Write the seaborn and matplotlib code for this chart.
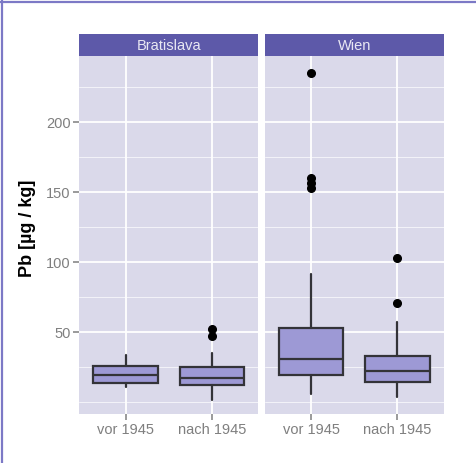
import matplotlib
matplotlib.use("Agg")
import matplotlib.pyplot as plt
from matplotlib.patches import Rectangle
from matplotlib.lines import Line2D
from matplotlib.ticker import FixedLocator
import pandas as pd
import seaborn as sns

# Blei-Gehalt je Stadt und Bauperiode (Boxplot-Kennwerte, µg/kg)
cities = ["Bratislava", "Wien"]
periods = ["vor 1945", "nach 1945"]
city = ["Bratislava", "Bratislava", "Wien", "Wien"]
period = ["vor 1945", "nach 1945", "vor 1945", "nach 1945"]
whisker_low = [10.7, 1.4, 5.7, 3.6]
q1 = [13.6, 12.1, 19.3, 14.3]
median = [19.3, 17.1, 30.7, 22.1]
q3 = [25.7, 25.0, 52.9, 32.9]
whisker_high = [33.6, 35.0, 91.4, 57.0]
outliers = [[], [47, 52], [153, 156, 160, 235], [71, 103]]
y_ticks = [50, 100, 150, 200]

df = pd.DataFrame({
    "Stadt": city, "Periode": period,
    "whislo": whisker_low, "q1": q1, "med": median, "q3": q3,
    "whishi": whisker_high, "fliers": outliers,
})

PANEL_BG = "#DAD9EA"
STRIP_BG = "#5D59A9"
BOX_FILL = "#9D99D5"
LINE_COL = "#333338"
TICK_COL = "#7F7F7F"

sns.set_theme(style="darkgrid", rc={
    "axes.facecolor": PANEL_BG,
    "grid.color": "white",
})
plt.rcParams["font.family"] = ["Liberation Sans", "DejaVu Sans"]


def draw_boxes(data, **kws):
    ax = plt.gca()
    stats = []
    pos = []
    for _, r in data.iterrows():
        stats.append(dict(whislo=r.whislo, q1=r.q1, med=r.med, q3=r.q3,
                          whishi=r.whishi, fliers=list(r.fliers)))
        pos.append(periods.index(r.Periode))
    ax.bxp(stats, positions=pos, widths=0.75, patch_artist=True,
           showcaps=False, manage_ticks=False,
           boxprops=dict(facecolor=BOX_FILL, edgecolor=LINE_COL, linewidth=1.6),
           medianprops=dict(color=LINE_COL, linewidth=1.6),
           whiskerprops=dict(color=LINE_COL, linewidth=1.6),
           flierprops=dict(marker="o", markerfacecolor="black",
                           markeredgecolor="black", markersize=5.5))


g = sns.FacetGrid(df, col="Stadt", col_order=cities, sharey=True, sharex=True,
                  despine=False)
g.map_dataframe(draw_boxes)
fig = g.figure
fig.set_size_inches(4.76, 4.64)
fig.set_dpi(100)
fig.subplots_adjust(left=79 / 476, right=444 / 476, bottom=1 - 415 / 464,
                    top=1 - 57 / 464, wspace=6 / 179)
g.set_titles("")

for ax, name in zip(g.axes.flat, cities):
    ax.set_xlim(-0.54, 1.54)
    ax.set_ylim(-8.6, 247)
    ax.set_xticks([0, 1])
    ax.set_xticklabels(periods)
    ax.yaxis.set_major_locator(FixedLocator(y_ticks))
    ax.yaxis.set_minor_locator(FixedLocator([0, 25, 75, 125, 175, 225]))
    ax.grid(which="major", color="white", linewidth=1.3)
    ax.grid(which="minor", axis="y", color="white", linewidth=0.6, alpha=0.8)
    ax.tick_params(axis="y", which="minor", length=0)
    ax.tick_params(axis="both", which="major", direction="out", length=4,
                   width=1.1, color=TICK_COL, labelcolor=TICK_COL,
                   labelsize=10.5, pad=2, bottom=True, left=True)
    ax.set_xlabel("")
    ax.set_ylabel("")
    for s in ax.spines.values():
        s.set_visible(False)
    ax.add_patch(Rectangle((0, 1), 1, 22 / 358, transform=ax.transAxes,
                           facecolor=STRIP_BG, edgecolor="none", clip_on=False))
    ax.text(0.5, 1 + 11 / 358, name, transform=ax.transAxes, ha="center",
            va="center", color="#E9E8F3", fontsize=10.5)

g.axes.flat[1].tick_params(axis="y", left=False, labelleft=False)

fig.text(28 / 476, 1 - 228 / 464, "Pb [µg / kg]", rotation=90, ha="center",
         va="center", fontsize=13, fontweight="bold", color="black")

# frame lines along the top and left edge
edge = "#7C79C6"
fig.add_artist(Line2D([0, 1], [1 - 3 / 464] * 2, transform=fig.transFigure,
                      color=edge, linewidth=1.6))
fig.add_artist(Line2D([2 / 476] * 2, [0, 1], transform=fig.transFigure,
                      color=edge, linewidth=1.6))

fig.savefig("out.png", dpi=100, facecolor="white")
